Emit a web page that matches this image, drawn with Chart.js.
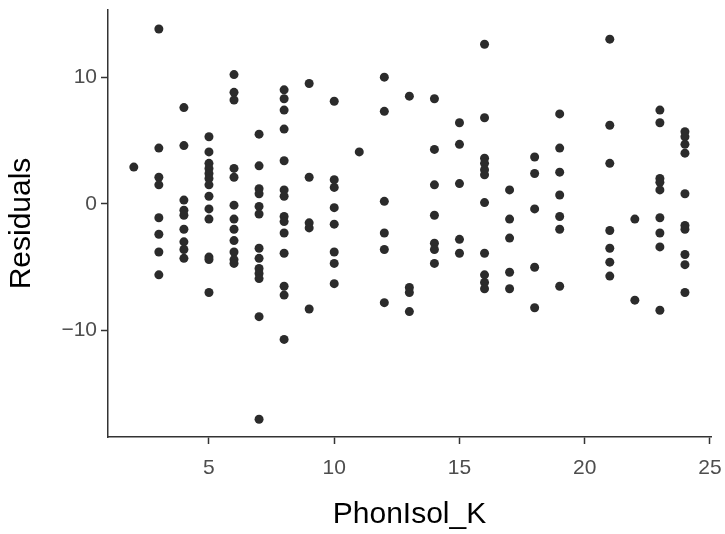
<!DOCTYPE html>
<html>
<head>
<meta charset="utf-8">
<script src="https://cdn.jsdelivr.net/npm/chart.js@4"></script>
<style>
  html, body { margin: 0; padding: 0; background: #ffffff; }
  #wrap { width: 725px; height: 534px; }
</style>
</head>
<body>
<div id="wrap"><canvas id="c" width="725" height="534"></canvas></div>
<script>
// PhonIsol_K values (x categories) and the residuals observed at each
const phonIsolK = [2, 3, 4, 5, 6, 7, 8, 9, 10, 11, 12, 13, 14, 15, 16, 17, 18, 19, 21, 22, 23, 24];
const residuals = [
  [2.9],
  [13.8, 4.4, 2.1, 1.5, -1.1, -2.4, -3.8, -5.6],
  [7.6, 4.6, 0.3, -0.5, -0.9, -2.0, -3.0, -3.6, -4.3],
  [5.3, 4.1, 3.2, 2.8, 2.4, 2.0, 1.5, 0.6, -0.4, -1.2, -4.2, -4.4, -7.0],
  [10.2, 8.8, 8.2, 2.8, 2.1, -0.1, -1.2, -2.0, -2.9, -3.8, -4.4, -4.7],
  [5.5, 3.0, 1.2, 0.8, -0.2, -0.8, -3.5, -4.3, -5.1, -5.5, -5.9, -8.9, -17.0],
  [9.0, 8.3, 7.4, 5.9, 3.4, 1.1, 0.6, -1.0, -1.4, -2.3, -3.9, -6.5, -7.2, -10.7],
  [9.5, 2.1, -1.5, -1.9, -8.3],
  [8.1, 1.9, 1.3, -0.3, -1.6, -3.8, -4.7, -6.3],
  [4.1],
  [10.0, 7.3, 0.2, -2.3, -3.6, -7.8],
  [8.5, -6.6, -7.0, -8.5],
  [8.3, 4.3, 1.5, -0.9, -3.1, -3.6, -4.7],
  [6.4, 4.7, 1.6, -2.8, -3.9],
  [12.6, 6.8, 3.6, 3.2, 2.7, 2.3, 0.1, -3.9, -5.6, -6.2, -6.7],
  [1.1, -1.2, -2.7, -5.4, -6.7],
  [3.7, 2.4, -0.4, -5.0, -8.2],
  [7.1, 4.4, 2.5, 0.7, -1.0, -2.0, -6.5],
  [13.0, 6.2, 3.2, -2.1, -3.5, -4.6, -5.7],
  [-1.2, -7.6],
  [7.4, 6.4, 2.0, 1.7, 1.1, -1.1, -2.3, -3.4, -8.4],
  [5.7, 5.3, 4.7, 4.0, 0.8, -1.7, -2.0, -4.0, -4.8, -7.0]
];
const xTicks = [5, 10, 15, 20, 25];
const yTicks = [-10, 0, 10];
const xTitle = 'PhonIsol_K';
const yTitle = 'Residuals';

const points = [];
phonIsolK.forEach((x, i) => residuals[i].forEach(r => points.push({ x: x, y: r })));

const axisColor = '#333333';
const tickTextColor = '#4d4d4d';
const fontFamily = '"Liberation Sans", Arial, Helvetica, sans-serif';
const fmt = v => (v < 0 ? '\u2212' + Math.abs(v) : String(v));

new Chart(document.getElementById('c'), {
  type: 'scatter',
  data: {
    datasets: [{
      data: points,
      pointRadius: 4.5,
      pointHoverRadius: 4.5,
      pointBackgroundColor: '#2b2b2b',
      pointBorderWidth: 0
    }]
  },
  options: {
    responsive: false,
    animation: false,
    devicePixelRatio: 1,
    layout: { padding: { left: 0, right: 14, top: 10, bottom: 0 } },
    plugins: { legend: { display: false }, tooltip: { enabled: false } },
    scales: {
      x: {
        type: 'linear',
        min: 0.97,
        max: 25.04,
        afterBuildTicks: s => { s.ticks = xTicks.map(v => ({ value: v })); },
        afterFit: s => { s.height = 97; s.paddingLeft = 0; s.paddingRight = 0; },
        grid: { display: true, drawOnChartArea: false, drawTicks: true, tickLength: 7, tickColor: axisColor, tickWidth: 1.5 },
        border: { display: true, color: axisColor, width: 1.5 },
        ticks: { color: tickTextColor, font: { family: fontFamily, size: 21 }, padding: 12, maxRotation: 0, callback: fmt },
        title: { display: true, text: xTitle, color: '#000000', font: { family: fontFamily, size: 30 }, padding: { top: 0, bottom: 1 } }
      },
      y: {
        type: 'linear',
        min: -18.4,
        max: 15.3,
        afterBuildTicks: s => { s.ticks = yTicks.map(v => ({ value: v })); },
        afterFit: s => { s.width = 108; s.paddingTop = 0; s.paddingBottom = 0; },
        grid: { display: true, drawOnChartArea: false, drawTicks: true, tickLength: 7, tickColor: axisColor, tickWidth: 1.5 },
        border: { display: true, color: axisColor, width: 1.5 },
        ticks: { color: tickTextColor, font: { family: fontFamily, size: 21 }, padding: 4, callback: fmt },
        title: { display: true, text: yTitle, color: '#000000', font: { family: fontFamily, size: 30 }, padding: { top: 4, bottom: 0 } }
      }
    }
  }
});
</script>
</body>
</html>
